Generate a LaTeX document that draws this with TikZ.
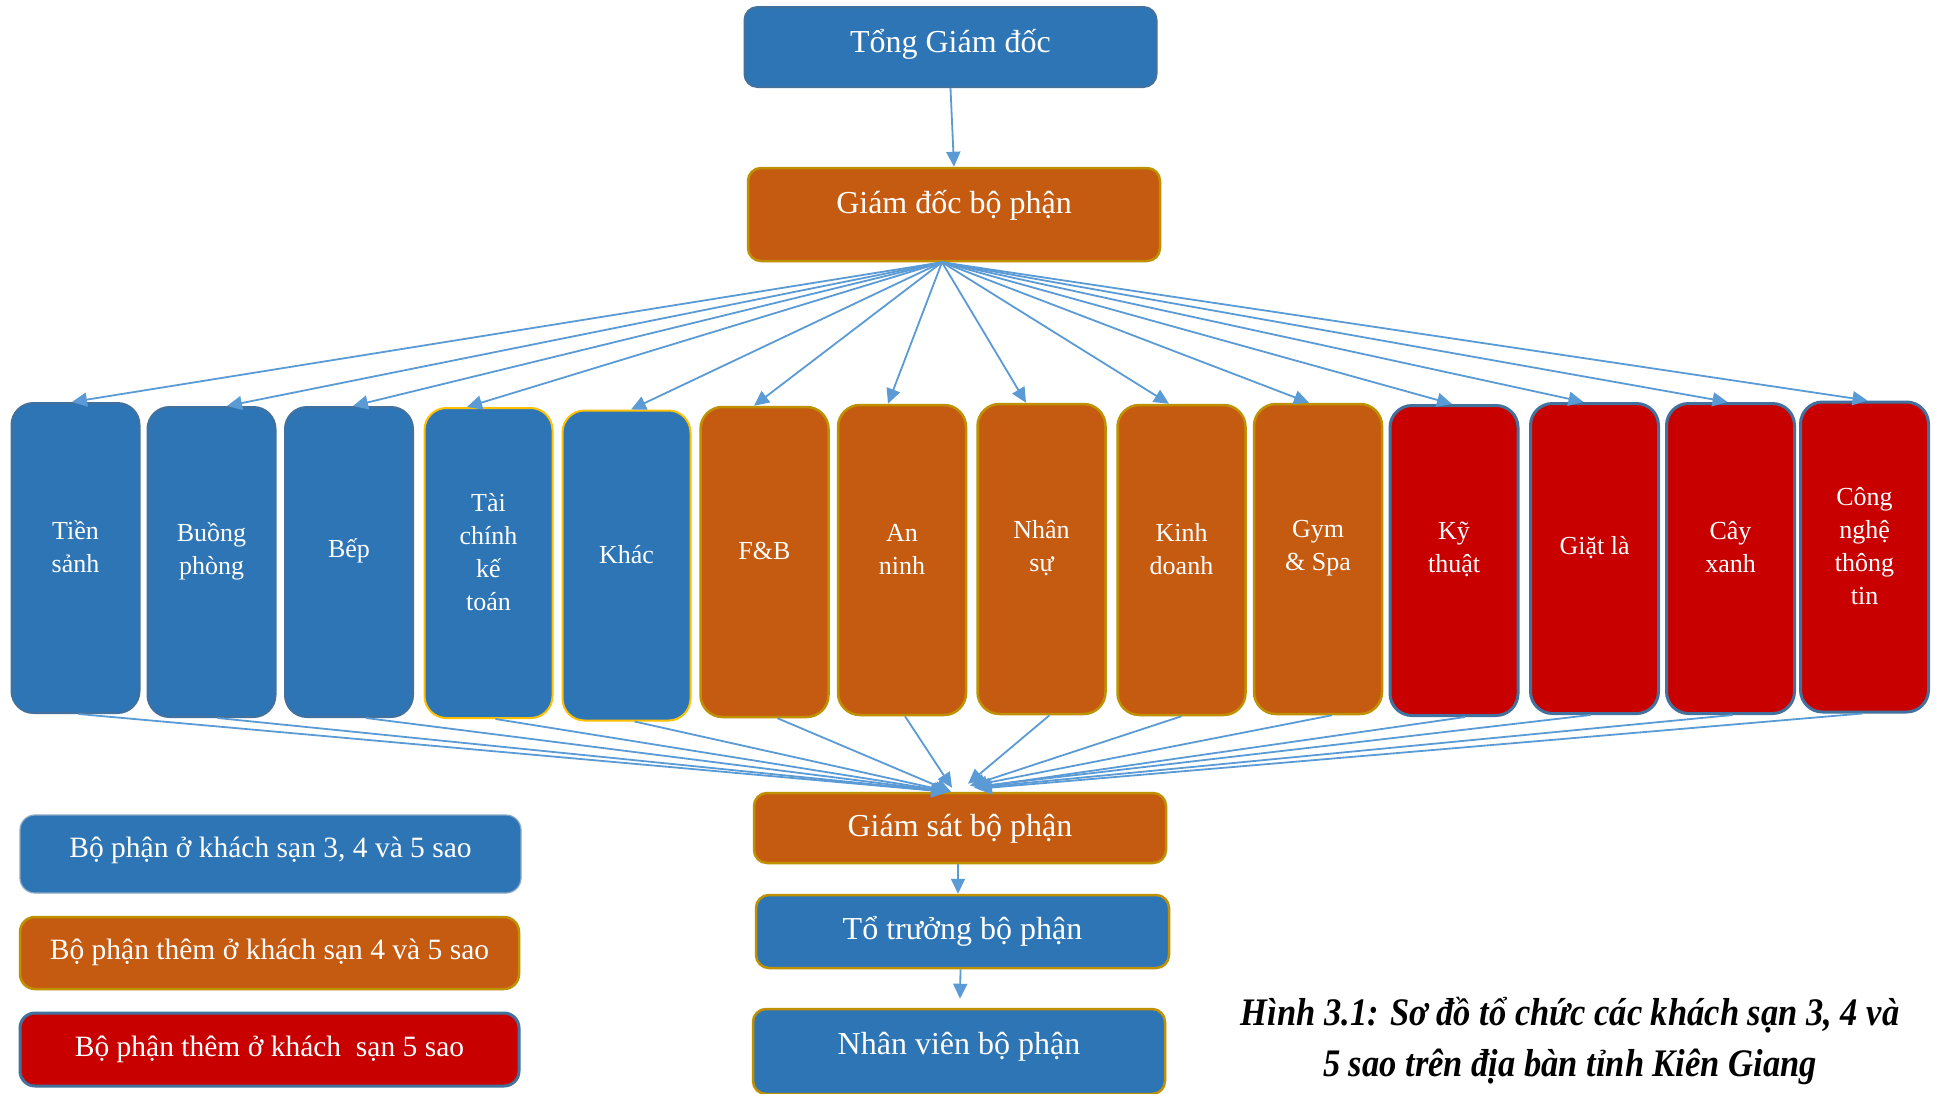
\documentclass[tikz,border=0pt]{standalone}
\usepackage{fontspec}
\usepackage{graphicx}
\setmainfont{Liberation Serif}
\usetikzlibrary{arrows.meta}

\definecolor{fillblue}{HTML}{2E75B6}
\definecolor{fillorange}{HTML}{C55A11}
\definecolor{fillred}{HTML}{C80000}
\definecolor{edgeblue}{HTML}{41719C}
\definecolor{edgegold}{HTML}{BF9000}
\definecolor{edgeyellow}{HTML}{FFC000}
\definecolor{linkblue}{HTML}{5B9BD5}

\tikzset{
  box/.style={draw, line width=2pt, rounded corners=13pt, inner sep=0pt},
  bluebox/.style={box, fill=fillblue, draw=edgeblue},
  orangebox/.style={box, fill=fillorange, draw=edgegold, line width=2.5pt},
  redbox/.style={box, fill=fillred, draw=edgeblue, line width=3pt},
  dept/.style={minimum width=128pt, minimum height=310pt, rounded corners=22pt},
  wide/.style={minimum width=412pt},
  dtext/.style={text=white, align=center, font=\fontsize{26}{33}\selectfont, yshift=11pt},
  btext/.style={text=white, align=center, font=\fontsize{32}{38}\selectfont},
  ltext/.style={text=white, align=center, font=\fontsize{29.5}{35}\selectfont},
  link/.style={draw=linkblue, line width=1.8pt, -{Triangle[length=15pt,width=14pt]}},
  captext/.style={align=center, font=\fontsize{39}{51}\selectfont\bfseries\itshape},
}

\begin{document}
\begin{tikzpicture}[x=1pt,y=-1pt]
\useasboundingbox (0,0) rectangle (1941,1093);
\fill[white] (0,0) rectangle (1941,1093);

% management levels
\node[bluebox, wide, minimum height=80pt, label={[btext, yshift=2.5pt]center:Tổng Giám đốc}] (tgd) at (950.5,47) {};
\node[orangebox, wide, minimum height=93pt, label={[btext, yshift=9.5pt]center:Giám đốc bộ phận}] (gdbp) at (954,214.5) {};

% departments of 3, 4 and 5 star hotels
\node[bluebox, dept, label={[dtext]center:{Tiền\\sảnh}}] (d1) at (75.5,558) {};
\node[bluebox, dept, label={[dtext]center:{Buồng\\phòng}}] (d2) at (211.5,562) {};
\node[bluebox, dept, label={[dtext]center:{Bếp}}] (d3) at (349,562) {};
\node[bluebox, dept, draw=edgeyellow, label={[dtext]center:{Tài\\chính\\kế\\toán}}] (d4) at (488.5,563) {};
\node[bluebox, dept, draw=edgeyellow, label={[dtext]center:{Khác}}] (d5) at (626.5,565.5) {};
% additional departments of 4 and 5 star hotels
\node[orangebox, dept, label={[dtext]center:{F\&B}}] (d6) at (764.5,562) {};
\node[orangebox, dept, label={[dtext]center:{An\\ninh}}] (d7) at (902,560) {};
\node[orangebox, dept, label={[dtext]center:{Nhân\\sự}}] (d8) at (1041.5,559) {};
\node[orangebox, dept, label={[dtext]center:{Kinh\\doanh}}] (d9) at (1181.5,560) {};
\node[orangebox, dept, label={[dtext]center:{Gym\\\& Spa}}] (d10) at (1318,559) {};
% additional departments of 5 star hotels
\node[redbox, dept, label={[dtext]center:{Kỹ\\thuật}}] (d11) at (1454,560.5) {};
\node[redbox, dept, label={[dtext]center:{Giặt là}}] (d12) at (1594.5,558.5) {};
\node[redbox, dept, label={[dtext]center:{Cây\\xanh}}] (d13) at (1730.5,558.5) {};
\node[redbox, dept, label={[dtext]center:{Công\\nghệ\\thông\\tin}}] (d14) at (1864.5,557) {};

% operational levels
\node[orangebox, wide, minimum height=70pt, label={[btext, yshift=-0.5pt]center:Giám sát bộ phận}] (gs) at (960,828) {};
\node[bluebox, wide, draw=edgegold, line width=2.5pt, minimum width=413pt, minimum height=73pt, label={[btext, yshift=0.5pt]center:Tổ trưởng bộ phận}] (tt) at (962.5,931.5) {};
\node[bluebox, wide, draw=edgegold, line width=2.5pt, minimum height=85pt, label={[btext, yshift=4.5pt]center:Nhân viên bộ phận}] (nv) at (959,1051.5) {};

% legend
\node[bluebox, draw=edgeblue!60, line width=1.2pt, minimum width=501pt, minimum height=78pt, rounded corners=15pt, label={[ltext, yshift=3.5pt]center:Bộ phận ở khách sạn 3, 4 và 5 sao}] (lg1) at (270.5,854) {};
\node[orangebox, minimum width=499pt, minimum height=72pt, rounded corners=15pt, label={[ltext, yshift=0.5pt]center:Bộ phận thêm ở khách sạn 4 và 5 sao}] (lg2) at (269.5,953) {};
\node[redbox, minimum width=499pt, minimum height=73pt, rounded corners=15pt, label={[ltext, yshift=0.5pt]center:Bộ phận thêm ở khách\ \ sạn 5 sao}] (lg3) at (269.5,1049.5) {};

% caption
\node[captext] (cap) at (1570,1041) {\scalebox{0.885}[1]{Hình 3.1: Sơ đồ tổ chức các khách sạn 3, 4 và}\\\scalebox{0.885}[1]{5 sao trên địa bàn tỉnh Kiên Giang}};

% top connector
\draw[link] (tgd.south) -- (gdbp.north);

% fan-out from department managers
\draw[link] ([xshift=-12pt]gdbp.south) -- ([xshift=-3.5pt]d1.north);
\draw[link] ([xshift=-12pt]gdbp.south) -- ([xshift=15.5pt]d2.north);
\draw[link] ([xshift=-12pt]gdbp.south) -- ([xshift=4pt]d3.north);
\draw[link] ([xshift=-12pt]gdbp.south) -- ([xshift=-21.5pt]d4.north);
\draw[link] ([xshift=-12pt]gdbp.south) -- ([xshift=4.5pt]d5.north);
\draw[link] ([xshift=-12pt]gdbp.south) -- ([xshift=-10.5pt]d6.north);
\draw[link] ([xshift=-12pt]gdbp.south) -- ([xshift=-14pt]d7.north);
\draw[link] ([xshift=-12pt]gdbp.south) -- ([xshift=-15.5pt]d8.north);
\draw[link] ([xshift=-12pt]gdbp.south) -- ([xshift=-12.5pt]d9.north);
\draw[link] ([xshift=-12pt]gdbp.south) -- ([xshift=-9pt]d10.north);
\draw[link] ([xshift=-12pt]gdbp.south) -- ([xshift=-2pt]d11.north);
\draw[link] ([xshift=-12pt]gdbp.south) -- ([xshift=-11pt]d12.north);
\draw[link] ([xshift=-12pt]gdbp.south) -- ([xshift=-3pt]d13.north);
\draw[link] ([xshift=-12pt]gdbp.south) -- ([xshift=3pt]d14.north);

% fan-in to supervisors
\draw[link] ([xshift=3pt]d1.south) -- ([xshift=-14pt]gs.north);
\draw[link] ([xshift=6pt]d2.south) -- ([xshift=-13pt]gs.north);
\draw[link] ([xshift=17pt]d3.south) -- ([xshift=-12pt]gs.north);
\draw[link] ([xshift=7pt]d4.south) -- ([xshift=-11pt]gs.north);
\draw[link] ([xshift=8pt]d5.south) -- ([xshift=-10pt]gs.north);
\draw[link] ([xshift=13pt]d6.south) -- ([xshift=-9pt]gs.north);
\draw[link] ([xshift=3pt]d7.south) -- ([xshift=-8pt, yshift=4pt]gs.north);
\draw[link] ([xshift=8pt]d8.south) -- ([xshift=8pt, yshift=8pt]gs.north);
\draw[link] ([xshift=0pt]d9.south) -- ([xshift=10pt, yshift=6pt]gs.north);
\draw[link] ([xshift=14pt]d10.south) -- ([xshift=12pt, yshift=6pt]gs.north);
\draw[link] ([xshift=11pt]d11.south) -- ([xshift=14pt, yshift=4pt]gs.north);
\draw[link] ([xshift=-4pt]d12.south) -- ([xshift=15pt, yshift=5pt]gs.north);
\draw[link] ([xshift=2pt]d13.south) -- ([xshift=16pt, yshift=4pt]gs.north);
\draw[link] ([xshift=-2pt]d14.south) -- ([xshift=17pt, yshift=3pt]gs.north);

% chain down to staff
\draw[link] ([xshift=-2pt]gs.south) -- ([xshift=-4.5pt]tt.north);
\draw[link] ([xshift=-2pt]tt.south) -- ([xshift=1pt, yshift=9pt]nv.north);
\end{tikzpicture}
\end{document}
